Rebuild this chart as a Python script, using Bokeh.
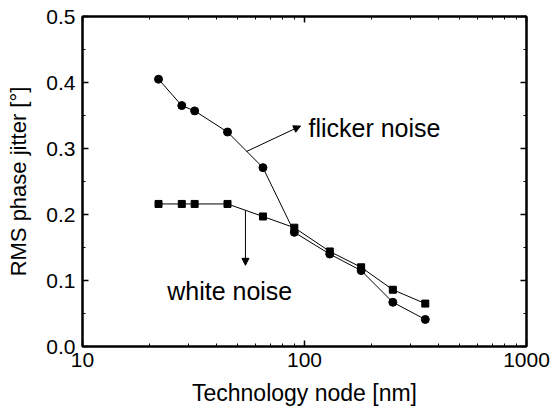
from bokeh.plotting import figure
from bokeh.models import (LinearAxis, LogAxis, FixedTicker, BasicTickFormatter, Range1d,
                          Arrow, NormalHead, Label, PrintfTickFormatter, CustomJSTickFormatter)
from bokeh.embed import file_html
from bokeh.resources import INLINE

# Data
node_nm = [22, 28, 32, 45, 65, 90, 130, 180, 250, 350]
flicker = [0.405, 0.365, 0.357, 0.325, 0.271, 0.173, 0.140, 0.115, 0.067, 0.041]
white = [0.216, 0.216, 0.216, 0.216, 0.197, 0.180, 0.144, 0.120, 0.086, 0.065]
x_ticks = [10, 100, 1000]
x_minor = [20, 30, 40, 50, 60, 70, 80, 90, 200, 300, 400, 500, 600, 700, 800, 900]
y_ticks = [0.0, 0.1, 0.2, 0.3, 0.4, 0.5]
y_minor = [0.05, 0.15, 0.25, 0.35, 0.45]
x_title = "Technology node [nm]"
y_title = "RMS phase jitter [°]"

FONT = "Liberation Sans"

p = figure(width=550, height=413, x_axis_type="log", x_range=Range1d(10, 1000),
           y_range=Range1d(0, 0.5), output_backend="svg", toolbar_location=None,
           min_border_left=82, min_border_right=24, min_border_top=16, min_border_bottom=67,
           x_axis_location=None, y_axis_location=None)
p.xgrid.visible = False
p.ygrid.visible = False
p.outline_line_color = "black"
p.outline_line_width = 2
p.background_fill_color = "white"
p.border_fill_color = "white"

xt = FixedTicker(ticks=x_ticks, minor_ticks=x_minor)
yt = FixedTicker(ticks=y_ticks, minor_ticks=y_minor)

def style(ax, show_labels):
    ax.axis_line_width = 2
    ax.axis_line_color = "black"
    ax.major_tick_in = 6
    ax.major_tick_out = 0
    ax.minor_tick_in = 3
    ax.minor_tick_out = 0
    ax.major_tick_line_width = 1.5
    ax.minor_tick_line_width = 1
    ax.major_tick_line_color = "black"
    ax.minor_tick_line_color = "black"
    ax.major_label_text_font = FONT
    ax.axis_label_text_font = FONT
    ax.axis_label_text_font_style = "normal"
    ax.major_label_text_color = "black"
    ax.axis_label_text_color = "black"
    if show_labels:
        ax.major_label_text_font_size = "21px"
    else:
        ax.formatter = CustomJSTickFormatter(code="return '';")
        ax.major_label_standoff = 0

bottom = LogAxis(ticker=xt, formatter=BasicTickFormatter(), axis_label=x_title)
style(bottom, True)
bottom.axis_label_text_font_size = "23px"
bottom.major_label_standoff = 6
bottom.axis_label_standoff = 10
top = LogAxis(ticker=xt)
style(top, False)
left = LinearAxis(ticker=yt, formatter=PrintfTickFormatter(format="%.1f"), axis_label=y_title)
style(left, True)
left.axis_label_text_font_size = "22px"
left.major_label_standoff = 7
left.axis_label_standoff = 12
right = LinearAxis(ticker=yt)
style(right, False)

p.add_layout(bottom, "below")
p.add_layout(top, "above")
p.add_layout(left, "left")
p.add_layout(right, "right")

p.line(node_nm, flicker, line_color="black", line_width=1)
p.scatter(node_nm, flicker, marker="circle", size=8, fill_color="black", line_color="black")
p.line(node_nm, white, line_color="black", line_width=1)
p.scatter(node_nm, white, marker="square", size=7, fill_color="black", line_color="black")

# annotations
p.add_layout(Arrow(x_start=54.8, y_start=0.2955, x_end=96, y_end=0.334,
                   line_width=1, line_color="black",
                   end=NormalHead(size=7, fill_color="black", line_color="black", line_width=1)))
p.add_layout(Arrow(x_start=54.2, y_start=0.206, x_end=54.2, y_end=0.123,
                   line_width=1, line_color="black",
                   end=NormalHead(size=7, fill_color="black", line_color="black", line_width=1)))
p.add_layout(Label(x=104.2, y=0.331, text="flicker noise", text_font=FONT,
                   text_font_size="25px", text_baseline="alphabetic", text_color="black"))
p.add_layout(Label(x=24.07, y=0.0848, text="white noise", text_font=FONT,
                   text_font_size="25px", text_baseline="alphabetic", text_color="black"))

open("out.html", "w").write(file_html(p, INLINE))
